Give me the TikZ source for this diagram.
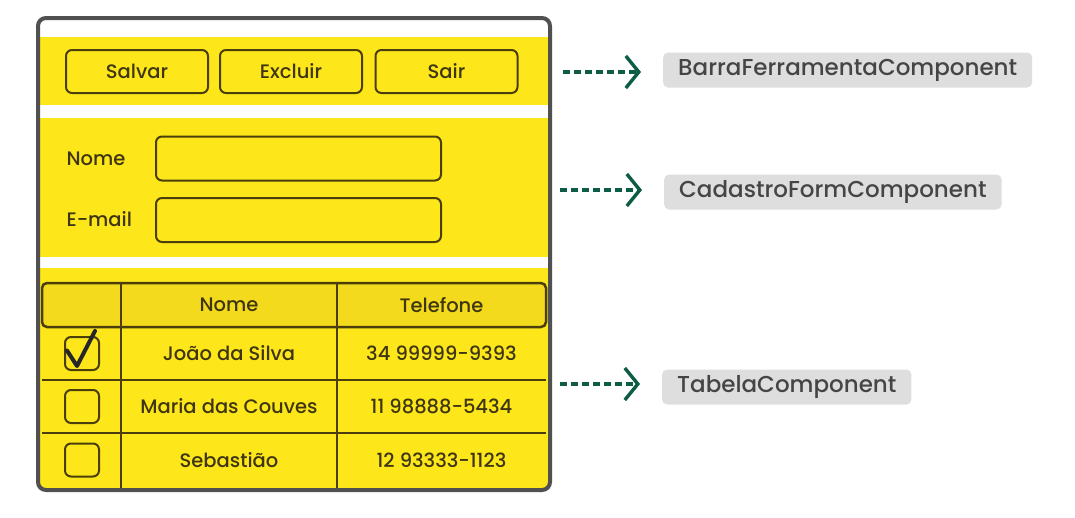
\documentclass[tikz,border=0pt]{standalone}
\usepackage{fontspec}
\setmainfont{Poppins Medium}
\usetikzlibrary{arrows.meta,calc}
\definecolor{ylw}{HTML}{FDE619}
\definecolor{ylwhd}{HTML}{F3DA1C}
\definecolor{olive}{HTML}{4A3F0C}
\definecolor{txt}{HTML}{3E3612}
\definecolor{frm}{HTML}{505050}
\definecolor{grn}{HTML}{0D5C45}
\definecolor{lblbg}{HTML}{DEDEDF}
\definecolor{lbltx}{HTML}{454545}
\tikzset{
  btn/.style={draw=olive,line width=2pt,rounded corners=6pt,fill=ylw,minimum width=142pt,minimum height=43pt,font=\fontsize{19.5}{23}\selectfont,text=txt},
  field/.style={draw=olive,line width=2pt,rounded corners=6pt,fill=ylw,minimum width=285pt,minimum height=44pt},
  flbl/.style={anchor=west,font=\fontsize{19.5}{23}\selectfont,text=txt},
  cell/.style={font=\fontsize{19.5}{23}\selectfont,text=txt},
  chk/.style={draw=olive,line width=2pt,rounded corners=6pt,minimum width=34pt,minimum height=33pt},
  tline/.style={draw=olive,line width=2.5pt},
  comp/.style={fill=lblbg,rounded corners=5pt,minimum height=35pt,inner xsep=15pt,font=\fontsize{23}{27}\selectfont,text=lbltx,anchor=west},
  conn/.style={draw=grn,line width=3.3pt,dash pattern=on 7pt off 4pt,-{Straight Barb[length=13pt,width=32pt,line width=3.4pt]},shorten >=22pt}
}
\begin{document}
\begin{tikzpicture}[x=1pt,y=-1pt]
\useasboundingbox (0,0) rectangle (1075,517);
\fill[white] (0,0) rectangle (1075,517);
% frame interior clip
\begin{scope}
\clip[rounded corners=8pt] (38,18) rectangle (550,490);
\fill[ylw] (38,37) rectangle (550,105);
\fill[ylw] (38,118) rectangle (550,257);
\fill[ylw] (38,268) rectangle (550,490);
\end{scope}
% toolbar
\node[btn] (salvar) at (137,71.5) {Salvar};
\node[btn] (excluir) at (291,71.5) {Excluir};
\node[btn] (sair) at (446.5,71.5) {Sair};
% form
\node[flbl] (lnome) at (63,159) {Nome};
\node[flbl] (lemail) at (63,219) {E-mail};
\node[field] (fnome) at (298.5,158.5) {};
\node[field] (femail) at (298.5,220) {};
% table
\draw[tline,fill=ylwhd,rounded corners=5pt] (42,283) rectangle (546,327);
\coordinate (c1t) at (121,283);
\coordinate (c1b) at (121,488);
\coordinate (c2t) at (337,283);
\coordinate (c2b) at (337,488);
\coordinate (r1l) at (42,380);
\coordinate (r1r) at (546,380);
\coordinate (r2l) at (42,433);
\coordinate (r2r) at (546,433);
\draw[tline] (c1t) -- (c1b);
\draw[tline] (c2t) -- (c2b);
\draw[tline] (r1l) -- (r1r);
\draw[tline] (r2l) -- (r2r);
\node[cell] (hnome) at (229,305) {Nome};
\node[cell] (htel) at (441.5,305) {Telefone};
\node[chk] (ck1) at (82,353.5) {};
\node[chk] (ck2) at (82,406.5) {};
\node[chk] (ck3) at (82,460) {};
\draw[black!85,line width=4pt,line cap=round,line join=round] ($(ck1.west)+(3,-3)$) -- ($(ck1.south)+(-5,-5)$) -- ($(ck1.north east)+(-5,-5)$);
\node[cell] (n1) at (229,353.5) {João da Silva};
\node[cell] (t1) at (441.5,353.5) {34 99999-9393};
\node[cell] (n2) at (229,406.5) {Maria das Couves};
\node[cell] (t2) at (441.5,406.5) {11 98888-5434};
\node[cell] (n3) at (229,460) {Sebastião};
\node[cell] (t3) at (441.5,460) {12 93333-1123};
% frame
\draw[frm,line width=4pt,rounded corners=8pt] (38,18) rectangle (550,490);
% component labels
\node[comp] (lb1) at (663,70) {BarraFerramentaComponent};
\node[comp] (lb2) at (664,192) {CadastroFormComponent};
\node[comp] (lb3) at (662,387) {TabelaComponent};
\coordinate (s1) at (563,72);
\coordinate (s2) at (560,190);
\coordinate (s3) at (560,384);
\draw[conn] (s1) -- (lb1.west |- s1);
\draw[conn] (s2) -- (lb2.west |- s2);
\draw[conn] (s3) -- (lb3.west |- s3);
\end{tikzpicture}
\end{document}
